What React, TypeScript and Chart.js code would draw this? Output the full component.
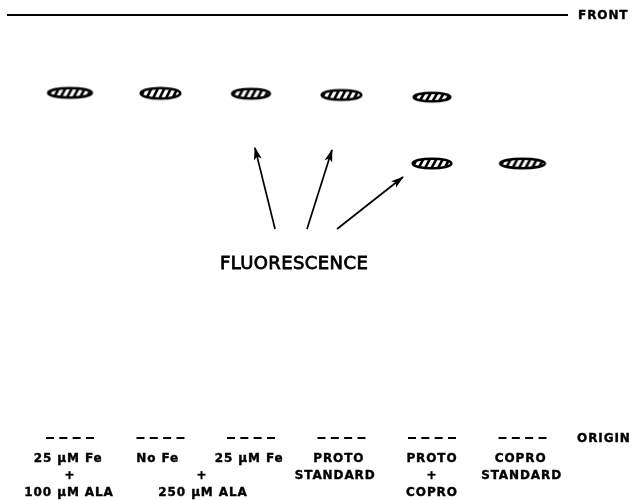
import { useEffect, useRef } from "react";
import { Chart, registerables } from "chart.js";

Chart.register(...registerables);

// Lanes of the TLC plate (1..6) and Rf values (origin = 0, solvent front = 1)
const frontRf = 1.0;
const originRf = 0.0;
const frontSpan = [0.304, 6.503];
const originLanes = [1, 2, 3, 4, 5, 6];

const upperSpotLanes = [1, 2, 3, 4, 5];
const upperSpotRf = [0.816, 0.815, 0.814, 0.811, 0.806];
const lowerSpotLanes = [5, 6];
const lowerSpotRf = [0.649, 0.649];

const arrowTailX = [3.266, 3.619, 3.951];
const arrowTailRf = [0.494, 0.494, 0.494];
const arrowHeadX = [3.044, 3.895, 4.68];
const arrowHeadRf = [0.686, 0.681, 0.617];

const labelTexts = [
  "25 μM Fe", "+", "100 μM ALA",
  "No Fe",
  "25 μM Fe", "+", "250 μM ALA",
  "PROTO", "STANDARD",
  "PROTO", "+", "COPRO",
  "COPRO", "STANDARD",
];
const labelLanes = [0.98, 1, 0.99, 1.97, 2.98, 2.46, 2.47, 3.97, 3.93, 5, 5, 5, 5.98, 5.99];
const labelRf = [
  -0.046, -0.087, -0.126,
  -0.046,
  -0.046, -0.087, -0.126,
  -0.046, -0.086,
  -0.046, -0.087, -0.127,
  -0.046, -0.086,
];

const sideTexts = ["FRONT", "ORIGIN"];
const sideTextX = [6.614, 6.603];
const sideTextRf = [frontRf, originRf];

const centerText = "FLUORESCENCE";
const centerTextX = 3.476;
const centerTextRf = 0.416;

function makeSpot(w: number, h: number): HTMLCanvasElement {
  const c = document.createElement("canvas");
  c.width = w + 4;
  c.height = h + 4;
  const ctx = c.getContext("2d")!;
  ctx.translate(c.width / 2, c.height / 2);
  ctx.beginPath();
  ctx.ellipse(0, 0, w / 2, h / 2, 0, 0, Math.PI * 2);
  ctx.fillStyle = "#fff";
  ctx.fill();
  ctx.save();
  ctx.clip();
  ctx.strokeStyle = "#000";
  ctx.lineWidth = 2.6;
  for (let x = -w / 2 - 4; x < w / 2 + 8; x += 6.5) {
    ctx.beginPath();
    ctx.moveTo(x - 3.5, h / 2 + 1);
    ctx.lineTo(x + 3.5, -h / 2 - 1);
    ctx.stroke();
  }
  ctx.restore();
  ctx.beginPath();
  ctx.ellipse(0, 0, w / 2 - 0.7, h / 2 - 0.7, 0, 0, Math.PI * 2);
  ctx.lineWidth = 2.6;
  ctx.strokeStyle = "#000";
  ctx.stroke();
  return c;
}

export default function App() {
  const ref = useRef<HTMLCanvasElement | null>(null);

  useEffect(() => {
    if (!ref.current) return;
    const upperImgs = [makeSpot(45, 11), makeSpot(41, 12), makeSpot(39, 11), makeSpot(41, 11), makeSpot(38, 10)];
    const lowerImgs = [makeSpot(40, 11), makeSpot(46, 11)];

    const datasets: any[] = [];
    datasets.push({
      data: [
        { x: frontSpan[0], y: frontRf },
        { x: frontSpan[1], y: frontRf },
      ],
      showLine: true,
      borderColor: "#000",
      borderWidth: 2,
      pointRadius: 0,
    });
    originLanes.forEach((l) => {
      datasets.push({
        data: [
          { x: l - 0.265, y: originRf },
          { x: l + 0.265, y: originRf },
        ],
        showLine: true,
        borderColor: "#000",
        borderWidth: 2.2,
        borderDash: [8, 5.33],
        pointRadius: 0,
      });
    });
    arrowTailX.forEach((tx, i) => {
      datasets.push({
        data: [
          { x: tx, y: arrowTailRf[i] },
          { x: arrowHeadX[i], y: arrowHeadRf[i] },
        ],
        showLine: true,
        borderColor: "#000",
        borderWidth: 1.7,
        pointRadius: 0,
      });
    });
    datasets.push({
      data: upperSpotLanes.map((l, i) => ({ x: l, y: upperSpotRf[i] })),
      pointStyle: (c: any) => upperImgs[c.dataIndex],
      pointRadius: 10,
    });
    datasets.push({
      data: lowerSpotLanes.map((l, i) => ({ x: l, y: lowerSpotRf[i] })),
      pointStyle: (c: any) => lowerImgs[c.dataIndex],
      pointRadius: 10,
    });

    const annot = {
      id: "annot",
      afterDatasetsDraw(chart: any) {
        const { ctx } = chart;
        const xs = chart.scales.x;
        const ys = chart.scales.y;
        ctx.save();
        ctx.fillStyle = "#000";
        ctx.strokeStyle = "#000";
        // arrowheads
        arrowTailX.forEach((tx, i) => {
          const x0 = xs.getPixelForValue(tx);
          const y0 = ys.getPixelForValue(arrowTailRf[i]);
          const x1 = xs.getPixelForValue(arrowHeadX[i]);
          const y1 = ys.getPixelForValue(arrowHeadRf[i]);
          const a = Math.atan2(y1 - y0, x1 - x0);
          const L = 12;
          const W = 4;
          ctx.beginPath();
          ctx.moveTo(x1 + Math.cos(a) * 1, y1 + Math.sin(a) * 1);
          ctx.lineTo(x1 - Math.cos(a) * L - Math.sin(a) * W, y1 - Math.sin(a) * L + Math.cos(a) * W);
          ctx.lineTo(x1 - Math.cos(a) * (L - 3), y1 - Math.sin(a) * (L - 3));
          ctx.lineTo(x1 - Math.cos(a) * L + Math.sin(a) * W, y1 - Math.sin(a) * L - Math.cos(a) * W);
          ctx.closePath();
          ctx.fill();
        });
        ctx.textBaseline = "alphabetic";
        // lane labels
        ctx.font = "bold 12px 'DejaVu Sans'";
        (ctx as any).letterSpacing = "0.9px";
        ctx.lineWidth = 0.4;
        ctx.textAlign = "center";
        labelTexts.forEach((t, i) => {
          const px = xs.getPixelForValue(labelLanes[i]);
          const py = ys.getPixelForValue(labelRf[i]) + 12 * 0.365;
          ctx.fillText(t, px, py);
          ctx.strokeText(t, px, py);
        });
        ctx.textAlign = "left";
        sideTexts.forEach((t, i) => {
          const px = xs.getPixelForValue(sideTextX[i]);
          const py = ys.getPixelForValue(sideTextRf[i]) + 12 * 0.365;
          ctx.fillText(t, px, py);
          ctx.strokeText(t, px, py);
        });
        ctx.font = "18px 'DejaVu Sans'";
        (ctx as any).letterSpacing = "0.4px";
        ctx.textAlign = "center";
        ctx.lineWidth = 0.8;
        const cx = xs.getPixelForValue(centerTextX);
        const cy = ys.getPixelForValue(centerTextRf) + 18 * 0.365;
        ctx.fillText(centerText, cx, cy);
        ctx.strokeText(centerText, cx, cy);
        ctx.restore();
      },
    };

    const chart = new Chart(ref.current, {
      type: "scatter",
      data: { datasets },
      options: {
        animation: false,
        responsive: false,
        devicePixelRatio: 1,
        layout: { padding: 0, autoPadding: false } as any,
        scales: {
          x: { type: "linear", min: 0.227, max: 7.21, display: false },
          y: { type: "linear", min: -0.1466, max: 1.0355, display: false },
        },
        plugins: {
          legend: { display: false },
          tooltip: { enabled: false },
        },
        events: [],
      },
      plugins: [annot],
    });
    return () => chart.destroy();
  }, []);

  return (
    <div style={{ position: "fixed", left: 0, top: 0, width: 632, height: 500, background: "#fff" }}>
      <canvas ref={ref} width={632} height={500} style={{ display: "block" }} />
    </div>
  );
}
